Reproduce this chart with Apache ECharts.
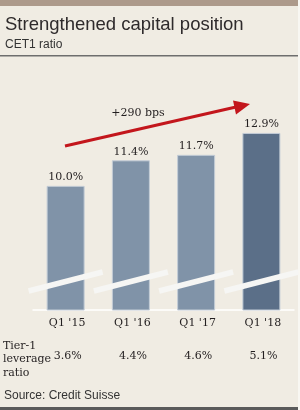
<!DOCTYPE html>
<html>
<head>
<meta charset="utf-8">
<script src="https://cdn.jsdelivr.net/npm/echarts@6/dist/echarts.min.js"></script>
<style>
  html, body { margin: 0; padding: 0; background: #f8f7f2; }
  #chart { width: 300px; height: 410px; }
</style>
</head>
<body>
<div id="chart"></div>
<script>
// data
const quarters = ["Q1 '15", "Q1 '16", "Q1 '17", "Q1 '18"]
const cet1 = [10.0, 11.4, 11.7, 12.9]
const leverage = [3.6, 4.4, 4.6, 5.1]
const changeLabel = '+290 bps'

const serif = '"DejaVu Serif", "Liberation Serif", serif'
const sans = '"Liberation Sans", Arial, sans-serif'
const barColor = '#8093a8'
const lastColor = '#5b6f88'

const chart = echarts.init(document.getElementById('chart'), null, { renderer: 'canvas' })

const staticGraphics = [
  { type: 'rect', left: 0, top: 0, z: -10, shape: { width: 298, height: 410 }, style: { fill: '#f0ece3' } },
  { type: 'rect', left: 0, top: 0, shape: { width: 298, height: 6 }, style: { fill: '#ad9a8b' } },
  { type: 'text', left: 5, top: 15, style: { text: 'Strengthened capital position', font: '18.5px ' + sans, fill: '#2e2a2b' } },
  { type: 'text', left: 5, top: 39, style: { text: 'CET1 ratio', font: '12px ' + sans, fill: '#333' } },
  { type: 'rect', left: 0, top: 55, shape: { width: 298, height: 1.5 }, style: { fill: '#6e6e6e' } },
  { type: 'text', left: 3, top: 339, style: { text: 'Tier-1\nleverage\nratio', font: '11px ' + serif, lineHeight: 13.5, fill: '#231f20' } },
  { type: 'text', left: 4, top: 390, style: { text: 'Source: Credit Suisse', font: '12px ' + sans, fill: '#333' } },
  { type: 'rect', left: 0, top: 407, shape: { width: 298, height: 3 }, style: { fill: '#5a5a5a' } },
  // growth arrow
  { type: 'line', shape: { x1: 65, y1: 146, x2: 236, y2: 107 }, style: { stroke: '#c3161c', lineWidth: 3 }, z: 20 },
  { type: 'polygon', shape: { points: [[250, 104], [236, 114.5], [233, 100.5]] }, style: { fill: '#c3161c' }, z: 20 },
  { type: 'text', x: 138, y: 108, style: { text: changeLabel, font: '11px ' + serif, fill: '#231f20', align: 'center' }, z: 20 }
]

chart.setOption({
  animation: false,
  backgroundColor: '#f8f7f2',
  grid: { left: 33, right: 6, top: 80, bottom: 100 },
  xAxis: [
    {
      type: 'category',
      data: quarters,
      axisLine: { lineStyle: { color: '#ffffff', width: 1.5 } },
      axisTick: { show: false },
      axisLabel: { margin: 8, color: '#231f20', fontFamily: serif, fontSize: 11, padding: [0, 0, 0, 3] }
    },
    {
      type: 'category',
      data: quarters,
      position: 'bottom',
      offset: 35,
      axisLine: { show: false },
      axisTick: { show: false },
      axisLabel: {
        margin: 6, color: '#231f20', fontFamily: serif, fontSize: 11, padding: [0, 0, 0, 4],
        formatter: (v, i) => leverage[i].toFixed(1) + '%'
      }
    }
  ],
  yAxis: { type: 'value', min: 3.2, max: 15.8, show: false, splitLine: { show: false } },
  graphic: staticGraphics,
  series: [{
    type: 'bar',
    xAxisIndex: 0,
    barWidth: 38,
    data: cet1.map((v, i) => ({
      value: v,
      itemStyle: { color: i === cet1.length - 1 ? lastColor : barColor }
    })),
    itemStyle: { borderColor: '#c3ccd6', borderWidth: 1 },
    label: {
      show: true, position: 'top', distance: 3,
      color: '#231f20', fontFamily: serif, fontSize: 11,
      formatter: p => p.value.toFixed(1) + '%'
    }
  }]
})

// axis-break stripes across each bar
const stripes = quarters.map((q, i) => {
  const cx = chart.convertToPixel({ xAxisIndex: 0 }, q)
  return {
    type: 'line', z: 30,
    shape: { x1: cx - 37, y1: 291, x2: cx + 37, y2: 272 },
    style: { stroke: '#f6f6f4', lineWidth: 5.5 }
  }
})
chart.setOption({ graphic: staticGraphics.concat(stripes) })
</script>
</body>
</html>
